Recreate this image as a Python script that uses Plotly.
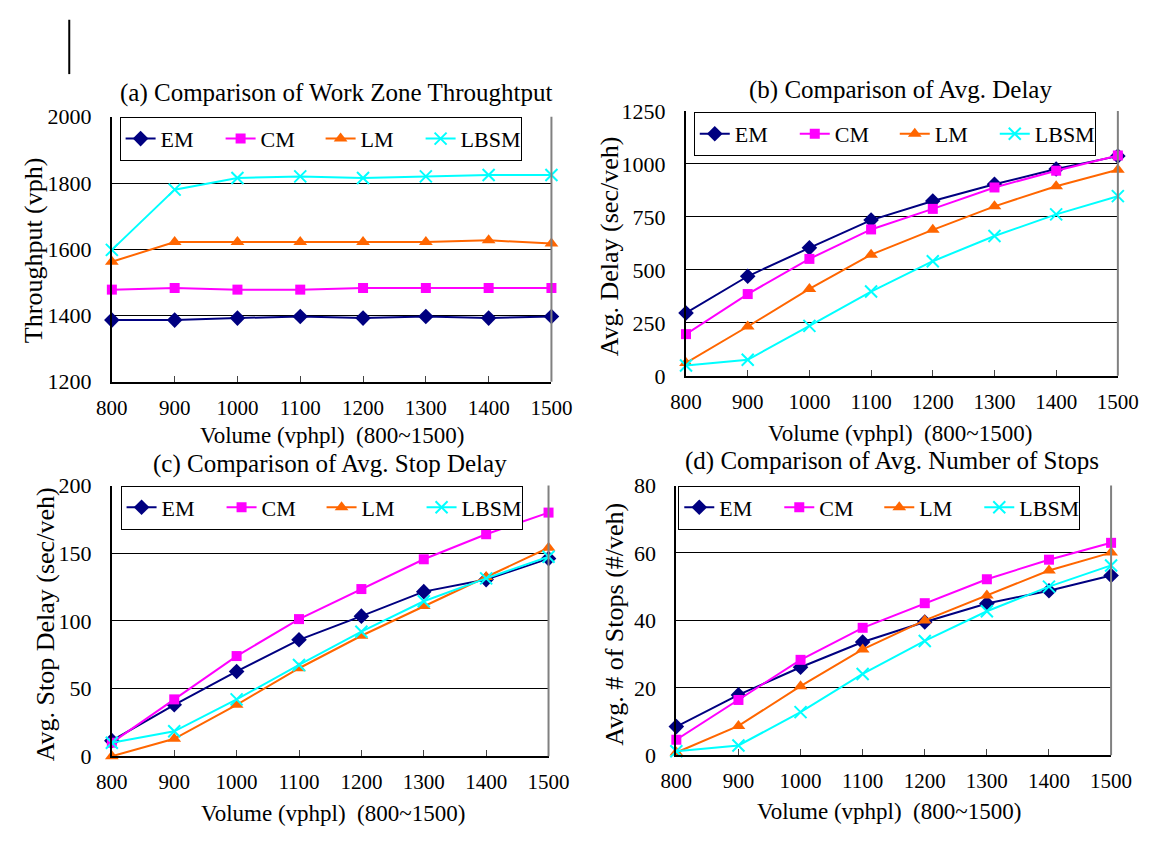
import plotly.graph_objects as go

W, H = 1165, 842

volume = [800, 900, 1000, 1100, 1200, 1300, 1400, 1500]
series_names = ["EM", "CM", "LM", "LBSM"]

# (a) Work zone throughput (vph)
thr_em = [1386, 1386, 1392, 1397, 1392, 1397, 1392, 1397]
thr_cm = [1478, 1483, 1478, 1478, 1483, 1483, 1483, 1483]
thr_lm = [1562, 1622, 1622, 1622, 1622, 1622, 1627, 1617]
thr_lbsm = [1598, 1780, 1815, 1820, 1815, 1820, 1824, 1824]

# (b) Avg. delay (sec/veh)
dly_em = [297, 470, 604, 735, 825, 904, 976, 1037]
dly_cm = [197, 386, 552, 691, 788, 889, 968, 1040]
dly_lm = [61, 233, 410, 572, 689, 800, 895, 973]
dly_lbsm = [49, 76, 236, 398, 541, 660, 762, 848]

# (c) Avg. stop delay (sec/veh)
sd_em = [11.5, 38, 62.6, 86, 103.5, 121.6, 130.5, 146]
sd_cm = [10, 42, 74, 101.3, 123.5, 145.5, 164, 180]
sd_lm = [0, 12.9, 38, 65, 89, 111, 132.4, 154]
sd_lbsm = [10, 18.4, 42, 67.4, 92, 114.5, 131.4, 147.4]

# (d) Avg. number of stops (#/veh)
ns_em = [8.5, 17.9, 26.1, 33.6, 39.5, 45, 48.8, 53.3]
ns_cm = [4.6, 16.4, 28.3, 37.8, 45.1, 52.2, 58, 63]
ns_lm = [0.8, 8.7, 20.5, 31.4, 40, 47.4, 54.8, 60.1]
ns_lbsm = [1.2, 2.9, 12.8, 24.1, 33.9, 42.7, 50, 56.3]

panel_titles = ["(a) Comparison of Work Zone Throughtput",
                "(b) Comparison of Avg. Delay",
                "(c) Comparison of Avg. Stop Delay",
                "(d) Comparison of Avg. Number of Stops"]
y_titles = ["Throughput (vph)", "Avg. Delay (sec/veh)",
            "Avg. Stop Delay (sec/veh)", "Avg. # of Stops (#/veh)"]
x_title = "Volume (vphpl)\u00a0\u00a0(800~1500)"

y_ranges = [(1200, 2000, 200), (0, 1250, 250), (0, 200, 50), (0, 80, 20)]

data = [
    [thr_em, thr_cm, thr_lm, thr_lbsm],
    [dly_em, dly_cm, dly_lm, dly_lbsm],
    [sd_em, sd_cm, sd_lm, sd_lbsm],
    [ns_em, ns_cm, ns_lm, ns_lbsm],
]

FONT = "Liberation Serif"

styles = [
    dict(color="#000080", symbol="diamond", size=12),
    dict(color="#FF00FF", symbol="square", size=10),
    dict(color="#FF6600", symbol="triangle-up", size=12),
    dict(color="#00FFFF", symbol="x-thin", size=12),
]

# plot-area boxes in pixels: (left, right, top, bottom)
boxes = [(99, 553, 108, 381), (692, 1138, 102, 375),
         (99, 550, 488, 767), (682, 1131, 488, 766)]
legend_pos = [(107, 108), (700, 103), (108, 488), (684, 488)]
title_pos = [(330, 83), (913, 80), (324, 466), (905, 463)]
xtitle_pos = [(326, 436), (913, 434), (327, 826), (902, 824)]
ytitle_pos = [(18, 245), (613, 242), (30, 631), (618, 631)]


def px(x):
    return x / W


def py(y):
    return 1 - y / H


fig = go.Figure()
layout = dict(width=W, height=H, margin=dict(l=0, r=0, t=0, b=0),
              paper_bgcolor="white", plot_bgcolor="white",
              font=dict(family=FONT, color="black", size=22),
              showlegend=True)
annotations = []
shapes = []

for i in range(4):
    n = "" if i == 0 else str(i + 1)
    xa, ya = "x" + n, "y" + n
    lg = "legend" + n
    for j, name in enumerate(series_names):
        st = styles[j]
        marker = dict(color=st["color"], symbol=st["symbol"], size=st["size"])
        if st["symbol"] == "x-thin":
            marker["line"] = dict(color=st["color"], width=2)
        fig.add_trace(go.Scatter(
            x=volume, y=data[i][j], name=name, mode="lines+markers",
            line=dict(color=st["color"], width=2), marker=marker,
            xaxis=xa, yaxis=ya, legend=lg, cliponaxis=False))
    l, r, t, b = boxes[i]
    y0, y1, dt = y_ranges[i]
    layout["xaxis" + n] = dict(
        domain=[px(l), px(r)], range=[800, 1500], dtick=100, tick0=800,
        anchor=ya, showline=True, linecolor="black", linewidth=2,
        ticks="inside", ticklen=6, tickcolor="#444", tickwidth=1,
        showgrid=False, zeroline=False, ticklabelstandoff=6,
        tickfont=dict(size=21, family=FONT))
    layout["yaxis" + n] = dict(
        domain=[py(b), py(t)], range=[y0, y1], dtick=dt, tick0=y0,
        anchor=xa, showline=True, linecolor="black", linewidth=2,
        showgrid=True, gridcolor="black", gridwidth=1, zeroline=False,
        ticks="", ticklabelstandoff=14,
        tickfont=dict(size=22, family=FONT))
    lx, ly = legend_pos[i]
    layout[lg] = dict(
        x=px(lx), y=py(ly), xanchor="left", yanchor="top",
        orientation="h", bordercolor="black", borderwidth=1,
        bgcolor="white", font=dict(size=22, family=FONT),
        entrywidth=55, itemwidth=30)
    shapes.append(dict(type="line", xref=xa + " domain", yref=ya + " domain",
                       x0=1, x1=1, y0=0, y1=1,
                       line=dict(color="#808080", width=2)))
    tx, ty = title_pos[i]
    annotations.append(dict(text=panel_titles[i], x=px(tx), y=py(ty),
                            xref="paper", yref="paper", showarrow=False,
                            xanchor="center", yanchor="middle",
                            font=dict(size=25, family=FONT)))
    tx, ty = xtitle_pos[i]
    annotations.append(dict(text=x_title, x=px(tx), y=py(ty),
                            xref="paper", yref="paper", showarrow=False,
                            xanchor="center", yanchor="middle",
                            font=dict(size=23, family=FONT)))
    tx, ty = ytitle_pos[i]
    annotations.append(dict(text=y_titles[i], x=px(tx), y=py(ty),
                            xref="paper", yref="paper", showarrow=False,
                            xanchor="center", yanchor="middle", textangle=-90,
                            font=dict(size=26, family=FONT)))

shapes.append(dict(type="line", xref="paper", yref="paper",
                   x0=px(55), x1=px(55), y0=py(8), y1=py(64),
                   line=dict(color="black", width=2)))

layout["annotations"] = annotations
layout["shapes"] = shapes
fig.update_layout(**layout)
fig.write_html("out.html", post_script="document.body.style.margin='0';")
